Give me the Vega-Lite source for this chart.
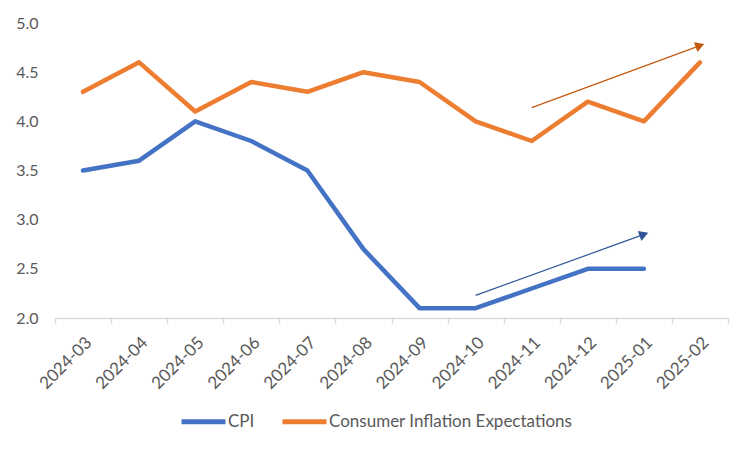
{
  "$schema": "https://vega.github.io/schema/vega-lite/v6.json",
  "width": 673,
  "height": 295,
  "autosize": "none",
  "padding": {"left": 55, "top": 23, "right": 23, "bottom": 134},
  "background": "white",
  "config": {"view": {"stroke": null}, "font": "Lato"},
  "datasets": {
    "series": [
      {"series": "CPI", "month": "2024-03", "value": 3.5},
      {"series": "CPI", "month": "2024-04", "value": 3.6},
      {"series": "CPI", "month": "2024-05", "value": 4.0},
      {"series": "CPI", "month": "2024-06", "value": 3.8},
      {"series": "CPI", "month": "2024-07", "value": 3.5},
      {"series": "CPI", "month": "2024-08", "value": 2.7},
      {"series": "CPI", "month": "2024-09", "value": 2.1},
      {"series": "CPI", "month": "2024-10", "value": 2.1},
      {"series": "CPI", "month": "2024-11", "value": 2.3},
      {"series": "CPI", "month": "2024-12", "value": 2.5},
      {"series": "CPI", "month": "2025-01", "value": 2.5},
      {"series": "Consumer Inflation Expectations", "month": "2024-03", "value": 4.3},
      {"series": "Consumer Inflation Expectations", "month": "2024-04", "value": 4.6},
      {"series": "Consumer Inflation Expectations", "month": "2024-05", "value": 4.1},
      {"series": "Consumer Inflation Expectations", "month": "2024-06", "value": 4.4},
      {"series": "Consumer Inflation Expectations", "month": "2024-07", "value": 4.3},
      {"series": "Consumer Inflation Expectations", "month": "2024-08", "value": 4.5},
      {"series": "Consumer Inflation Expectations", "month": "2024-09", "value": 4.4},
      {"series": "Consumer Inflation Expectations", "month": "2024-10", "value": 4.0},
      {"series": "Consumer Inflation Expectations", "month": "2024-11", "value": 3.8},
      {"series": "Consumer Inflation Expectations", "month": "2024-12", "value": 4.2},
      {"series": "Consumer Inflation Expectations", "month": "2025-01", "value": 4.0},
      {"series": "Consumer Inflation Expectations", "month": "2025-02", "value": 4.6}
    ],
    "arrows": [
      {"arrow": "CPI trend", "month": "2024-10", "value": 2.23, "head": false},
      {"arrow": "CPI trend", "month": "2025-01", "value": 2.85, "head": true},
      {"arrow": "Expectations trend", "month": "2024-11", "value": 4.14, "head": false},
      {"arrow": "Expectations trend", "month": "2025-02", "value": 4.77, "head": true}
    ]
  },
  "layer": [
    {
      "data": {"name": "series"},
      "mark": {"type": "line", "strokeWidth": 4.5, "strokeCap": "round", "strokeJoin": "round"},
      "encoding": {
        "x": {
          "field": "month", "type": "ordinal", "bandPosition": 0.5,
          "scale": {"type": "band", "paddingInner": 0, "paddingOuter": 0,
            "domain": ["2024-03","2024-04","2024-05","2024-06","2024-07","2024-08","2024-09","2024-10","2024-11","2024-12","2025-01","2025-02"]},
          "axis": {"title": null, "domainColor": "#D9D9D9", "domainWidth": 1.5, "tickColor": "#D9D9D9", "tickWidth": 1.5, "tickSize": 5, "tickBand": "extent", "labelAngle": -45, "labelAlign": "right", "labelBaseline": "top", "labelFontSize": 17, "labelColor": "#595959", "labelPadding": 11, "grid": false}
        },
        "y": {
          "field": "value", "type": "quantitative",
          "scale": {"domain": [2, 5], "nice": false, "zero": false},
          "axis": {"title": null, "domain": false, "ticks": false, "grid": false, "values": [2, 2.5, 3, 3.5, 4, 4.5, 5], "format": ".1f", "labelFontSize": 16, "labelColor": "#595959", "labelPadding": 17}
        },
        "color": {
          "field": "series", "type": "nominal",
          "scale": {"domain": ["CPI", "Consumer Inflation Expectations"], "range": ["#4472C4", "#ED7D31"]},
          "legend": {"title": null, "orient": "none", "legendX": 124, "legendY": 374, "direction": "horizontal", "symbolType": "stroke", "symbolStrokeWidth": 5, "symbolSize": 1936, "labelFontSize": 17, "labelColor": "#595959", "labelOffset": 0, "labelLimit": 0, "columnPadding": 17}
        }
      }
    },
    {
      "data": {"name": "arrows"},
      "mark": {"type": "line", "strokeWidth": 1.2},
      "encoding": {
        "x": {"field": "month", "type": "ordinal", "bandPosition": 0.5},
        "y": {"field": "value", "type": "quantitative"},
        "detail": {"field": "arrow"},
        "stroke": {"field": "arrow", "type": "nominal", "scale": {"domain": ["CPI trend", "Expectations trend"], "range": ["#2F5597", "#C55A11"]}, "legend": null}
      }
    },
    {
      "data": {"name": "arrows"},
      "transform": [{"filter": "datum.head"}],
      "mark": {"type": "point", "shape": "triangle-right", "angle": 340, "size": 110, "filled": true, "opacity": 1},
      "encoding": {
        "x": {"field": "month", "type": "ordinal", "bandPosition": 0.5},
        "y": {"field": "value", "type": "quantitative"},
        "fill": {"field": "arrow", "type": "nominal", "scale": {"domain": ["CPI trend", "Expectations trend"], "range": ["#2F5597", "#C55A11"]}, "legend": null}
      }
    }
  ]
}
